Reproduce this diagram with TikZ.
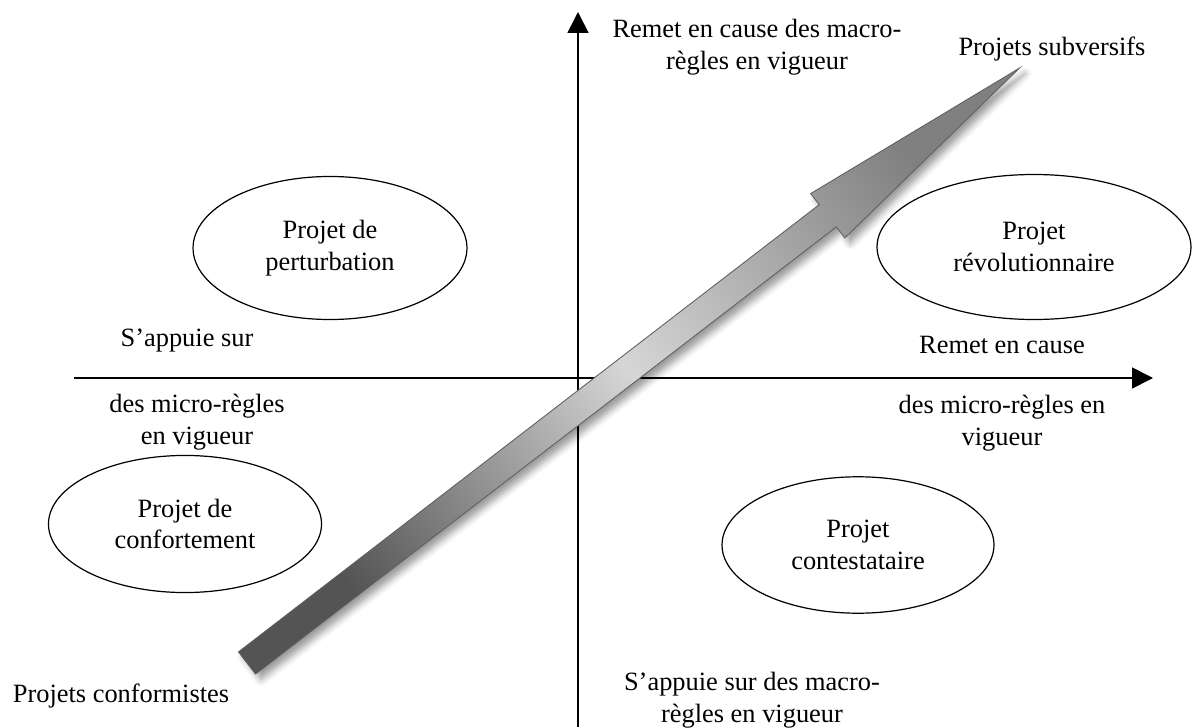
\documentclass[tikz,border=0pt]{standalone}
\usepackage{fontspec}
\setmainfont{Liberation Serif}
\usetikzlibrary{shapes.geometric, arrows.meta, shadows.blur}
\definecolor{light}{RGB}{214, 214, 214}
\definecolor{mid}{RGB}{128, 128, 128}
\definecolor{dark}{RGB}{84, 84, 84}
\definecolor{edge}{RGB}{96, 96, 96}
\pgfdeclarehorizontalshading{arrowfade}{100bp}{color(0bp)=(dark); color(25bp)=(dark);
  color(50bp)=(light); color(75bp)=(mid); color(100bp)=(mid)}

\tikzset{
  project/.style={ellipse, draw, line width=0.55pt, inner sep=0pt, align=center},
  caption/.style={align=center, inner sep=0pt},
  axis/.style={line width=0.75pt, -{Triangle[length=9.5pt, width=9.5pt]}}
}

\begin{document}
\begin{tikzpicture}[x=0.4545pt, y=0.4545pt, font=\fontsize{12}{14.5}\selectfont]
  \useasboundingbox (0, 0) rectangle (1192, 727);
  \pgfmathsetmacro{\ang}{37.6}

  % axes
  \coordinate (west) at (74, 349);
  \coordinate (east) at (1153, 349);
  \coordinate (south) at (578, 0);
  \coordinate (north) at (578, 715);
  \draw[axis] (west) -- (east);
  \draw[axis] (south) -- (north);

  % the four kinds of projects
  \node[project, minimum width=124.5pt, minimum height=65pt] (perturb) at (330, 479)
    {Projet de\\perturbation};
  \node[project, minimum width=142.7pt, minimum height=65.9pt] (revol) at (1034, 480)
    {Projet\\révolutionnaire};
  \node[project, minimum width=124.1pt, minimum height=62.3pt] (confort) at (185, 203)
    {Projet de\\confortement};
  \node[project, minimum width=123.6pt, minimum height=62pt] (contest) at (858, 182)
    {Projet\\contestataire};

  % axis labels
  \node[caption] (upper) at (757, 680) {Remet en cause des macro-\\règles en vigueur};
  \node[caption] (lower) at (752, 27) {S’appuie sur des macro-\\règles en vigueur};
  \node[caption] (leftup) at (187, 386) {S’appuie sur};
  \node[caption] (leftdown) at (197, 305) {des micro-règles\\en vigueur};
  \node[caption] (rightup) at (1002, 382) {Remet en cause};
  \node[caption] (rightdown) at (1002, 304) {des micro-règles en\\vigueur};

  % the big arrow
  \begin{scope}[shift={(247, 64)}, rotate=\ang]
    \coordinate (tail) at (0, 0);
    \coordinate (tip) at (975, 0);
    \shadedraw[draw=edge, line width=0.4pt, shading=arrowfade, shading angle=\ang,
      blur shadow={shadow xshift=2.5pt, shadow yshift=-2.5pt, shadow blur radius=3pt, shadow opacity=40}]
      (0, 14) -- (733, 14) -- (733, 28) -- (tip) -- (733, -28) -- (733, -14) -- (0, -14) -- cycle;
  \end{scope}
  \node[caption] (subv) at (1052, 678) {Projets subversifs};
  \node[caption] (conform) at (121, 31) {Projets conformistes};
\end{tikzpicture}
\end{document}
